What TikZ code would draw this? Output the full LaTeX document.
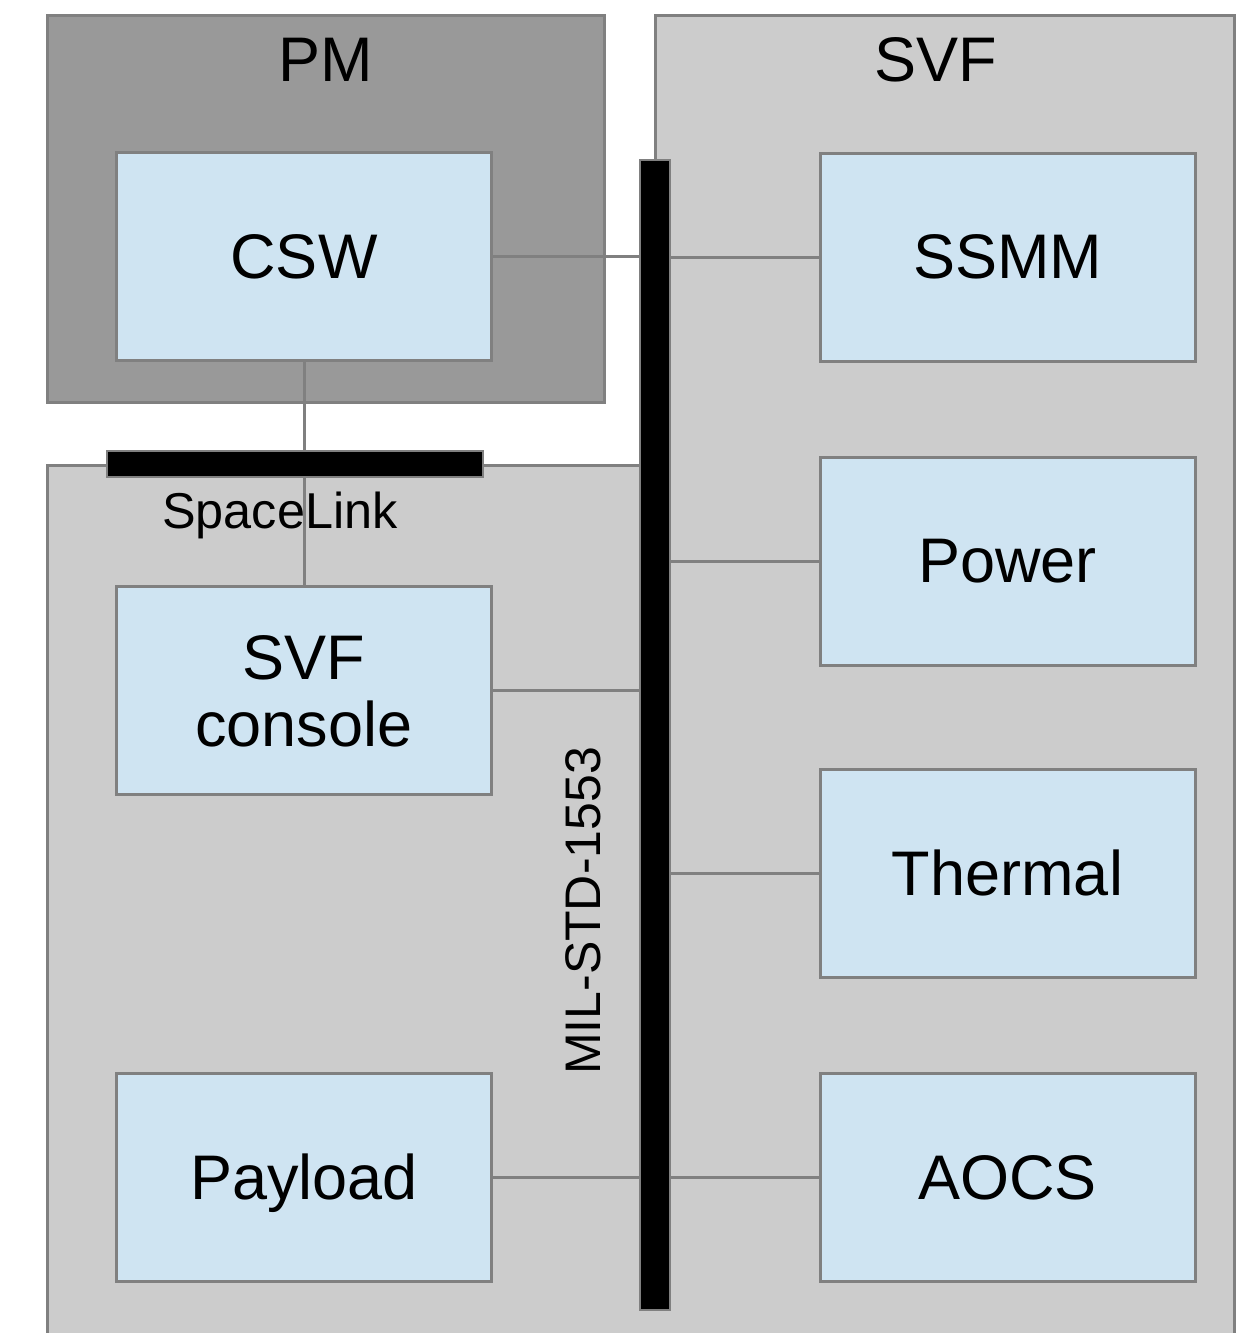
\documentclass[tikz,border=0pt]{standalone}
\usepackage{fontspec}
\setmainfont{Liberation Sans}
\definecolor{boxfill}{RGB}{207,228,242}
\definecolor{edgegray}{RGB}{128,128,128}
\definecolor{pmgray}{RGB}{153,153,153}
\definecolor{svfgray}{RGB}{204,204,204}
\begin{document}
\begin{tikzpicture}[x=0.5pt,y=-0.5pt,
  unit/.style={draw=edgegray, fill=boxfill, line width=1.5pt, minimum width=187.5pt, minimum height=104pt, inner sep=0pt, font=\fontsize{31.5}{33.5}\selectfont, text depth=0pt, align=center},
  link/.style={draw=edgegray, line width=1.5pt},
  region/.style={draw=edgegray, line width=1.5pt},
  title/.style={inner sep=0pt, font=\fontsize{31.5}{36}\selectfont},
  busbar/.style={fill=black, draw=edgegray, line width=0.8pt, inner sep=0pt}
]
\clip (0,0) rectangle (1245,1333);
\useasboundingbox (0,0) rectangle (1245,1333);
\fill[white] (0,0) rectangle (1245,1333);

% regions
\filldraw[region, fill=svfgray] (47.5,1345) -- (47.5,465.5) -- (655.5,465.5) -- (655.5,15.5) -- (1234,15.5) -- (1234,1345);
\filldraw[region, fill=pmgray] (47.5,15.5) rectangle (604,402);

\node[title] (pmlabel) at (326,60) {PM};
\node[title] (svflabel) at (936,60) {SVF};

% units
\node[unit] (csw) at (304,256.5) {CSW};
\node[unit] (ssmm) at (1007.5,257) {SSMM};
\node[unit] (power) at (1007.5,561) {Power};
\node[unit] (thermal) at (1007.5,873) {Thermal};
\node[unit] (aocs) at (1007.5,1177) {AOCS};
\node[unit] (console) at (304,690.5) {SVF\\console};
\node[unit] (payload) at (304,1177) {Payload};

% labels
\node[inner sep=0pt, anchor=base, font=\fontsize{25.2}{28}\selectfont] (sltext) at (280,528) {SpaceLink};
\node[inner sep=0pt, rotate=90, font=\fontsize{25}{28}\selectfont] (miltext) at (583,911) {MIL-STD-1553};

% buses
\node[busbar, minimum width=15pt, minimum height=575pt] (bus) at (655,735) {};
\node[busbar, minimum width=188pt, minimum height=13pt] (spacelink) at (295,464) {};

% connectors
\draw[link] (csw.south) -- (csw.south |- spacelink.north);
\draw[link] (console.north |- spacelink.south) -- (console.north);
\draw[link] (csw.east) -- (csw.east -| bus.west);
\draw[link] (ssmm.west) -- (ssmm.west -| bus.east);
\draw[link] (power.west) -- (power.west -| bus.east);
\draw[link] (thermal.west) -- (thermal.west -| bus.east);
\draw[link] (aocs.west) -- (aocs.west -| bus.east);
\draw[link] (console.east) -- (console.east -| bus.west);
\draw[link] (payload.east) -- (payload.east -| bus.west);
\end{tikzpicture}
\end{document}
